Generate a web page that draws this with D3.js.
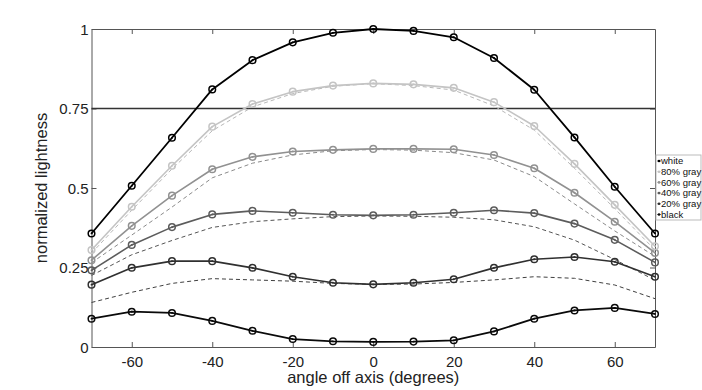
<!DOCTYPE html>
<html><head><meta charset="utf-8">
<script src="https://cdn.jsdelivr.net/npm/d3@7"></script>
<style>
html,body{margin:0;padding:0;background:#fff;}
svg{display:block;font-family:"Liberation Sans",Arial,Helvetica,sans-serif;}
</style></head>
<body><svg id="c" width="702" height="390"></svg>
<script>
const angles = [-70,-60,-50,-40,-30,-20,-10,0,10,20,30,40,50,60,70];
const seriesNames = ["white","80% gray","60% gray","40% gray","20% gray","black"];
const whiteVals  = [0.357,0.507,0.658,0.810,0.902,0.958,0.988,1.000,0.994,0.974,0.909,0.809,0.659,0.504,0.357];
const gray80Vals = [0.305,0.441,0.570,0.693,0.764,0.803,0.822,0.829,0.826,0.815,0.770,0.695,0.576,0.447,0.317];
const gray60Vals = [0.273,0.381,0.476,0.559,0.598,0.615,0.620,0.623,0.623,0.622,0.604,0.562,0.485,0.394,0.296];
const gray40Vals = [0.241,0.321,0.377,0.417,0.428,0.422,0.416,0.414,0.416,0.422,0.430,0.421,0.388,0.337,0.266];
const gray20Vals = [0.196,0.249,0.270,0.270,0.249,0.221,0.202,0.197,0.202,0.213,0.249,0.276,0.283,0.268,0.221];
const blackVals  = [0.089,0.111,0.107,0.082,0.051,0.025,0.018,0.016,0.017,0.021,0.049,0.089,0.115,0.123,0.104];
// dashed reference curves
const ref80Vals = [0.295,0.430,0.560,0.680,0.755,0.797,0.820,0.828,0.822,0.808,0.758,0.682,0.562,0.435,0.305];
const ref60Vals = [0.265,0.352,0.440,0.532,0.578,0.604,0.617,0.621,0.619,0.611,0.588,0.536,0.450,0.365,0.285];
const ref40Vals = [0.225,0.290,0.335,0.376,0.394,0.403,0.410,0.412,0.411,0.408,0.400,0.378,0.336,0.275,0.210];
const ref20Vals = [0.140,0.172,0.200,0.215,0.211,0.207,0.200,0.197,0.198,0.203,0.211,0.221,0.216,0.195,0.152];
const xTicks = [-60,-40,-20,0,20,40,60];
const xTickLabels = ["-60","-40","-20","0","20","40","60"];
const yTicks = [0,0.25,0.5,0.75,1];
const yTickLabels = ["0","0.25","0.5","0.75","1"];
const refLine = 0.75;

const solidSeries = [
  {name:seriesNames[0], vals:whiteVals,  color:"#000000", w:1.8},
  {name:seriesNames[1], vals:gray80Vals, color:"#c4c4c4", w:1.6},
  {name:seriesNames[2], vals:gray60Vals, color:"#919191", w:1.6},
  {name:seriesNames[3], vals:gray40Vals, color:"#5c5c5c", w:1.6},
  {name:seriesNames[4], vals:gray20Vals, color:"#303030", w:1.7},
  {name:seriesNames[5], vals:blackVals,  color:"#0a0a0a", w:1.8}
];
const dashedSeries = [
  {vals:ref80Vals, color:"#b8b8b8"},
  {vals:ref60Vals, color:"#8a8a8a"},
  {vals:ref40Vals, color:"#555555"},
  {vals:ref20Vals, color:"#404040"}
];

const svg = d3.select("#c");
const L=91.5, R=655, T=29, B=347;
const x = d3.scaleLinear().domain([-70,70]).range([L,R]);
const y = d3.scaleLinear().domain([0,1]).range([B,T]);
const axisColor = "#555";

// axes (inward ticks, box)
const gx = svg.append("g").attr("transform",`translate(0,${B})`)
  .call(d3.axisBottom(x).tickValues(xTicks).tickSizeInner(-5).tickSizeOuter(0).tickPadding(9)
    .tickFormat((d,i)=>xTickLabels[i]));
const gxt = svg.append("g").attr("transform",`translate(0,${T})`)
  .call(d3.axisTop(x).tickValues(xTicks).tickSizeInner(-5).tickSizeOuter(0).tickFormat(""));
const gy = svg.append("g").attr("transform",`translate(${L},0)`)
  .call(d3.axisLeft(y).tickValues(yTicks).tickSizeInner(-5).tickSizeOuter(0).tickPadding(3)
    .tickFormat((d,i)=>yTickLabels[i]));
const gyr = svg.append("g").attr("transform",`translate(${R},0)`)
  .call(d3.axisRight(y).tickValues(yTicks).tickSizeInner(-5).tickSizeOuter(0).tickFormat(""));
[gx,gxt,gy,gyr].forEach(g=>{
  g.selectAll("path").attr("stroke",axisColor).attr("stroke-width",1);
  g.selectAll("line").attr("stroke",axisColor).attr("stroke-width",1);
  g.selectAll("text").attr("fill","#222").style("font-size","15px").style("font-family","'Liberation Sans',Arial,sans-serif");
});
gy.selectAll("text").attr("dy","0.35em");

// reference line
svg.append("line").attr("x1",x(-70)).attr("x2",x(70)).attr("y1",y(refLine)).attr("y2",y(refLine))
  .attr("stroke","#333").attr("stroke-width",1.4);

const line = d3.line().x((d,i)=>x(angles[i])).y(d=>y(d));

dashedSeries.forEach(s=>{
  svg.append("path").attr("d",line(s.vals)).attr("fill","none")
    .attr("stroke",s.color).attr("stroke-width",1).attr("stroke-dasharray","4,3");
});

solidSeries.slice().reverse().forEach(s=>{
  svg.append("path").attr("d",line(s.vals)).attr("fill","none")
    .attr("stroke",s.color).attr("stroke-width",s.w).attr("stroke-linejoin","round");
  const g = svg.append("g");
  g.selectAll("circle.m").data(s.vals).join("circle").attr("class","m")
    .attr("cx",(d,i)=>x(angles[i])).attr("cy",d=>y(d)).attr("r",3.3)
    .attr("fill","none").attr("stroke",s.color).attr("stroke-width",1.5);
  g.selectAll("circle.c").data(s.vals).join("circle").attr("class","c")
    .attr("cx",(d,i)=>x(angles[i])).attr("cy",d=>y(d)).attr("r",0.9)
    .attr("fill",s.color);
});

// axis labels
svg.append("text").attr("x",(L+R)/2).attr("y",383).attr("text-anchor","middle")
  .style("font-size","16.5px").attr("fill","#222").text("angle off axis (degrees)");
svg.append("text").attr("transform",`translate(47,${(T+B)/2}) rotate(-90)`).attr("text-anchor","middle")
  .style("font-size","16.5px").attr("fill","#222").text("normalized lightness");

// legend
const lg = svg.append("g").attr("transform","translate(656,155)");
lg.append("rect").attr("x",0).attr("y",0).attr("width",45).attr("height",65)
  .attr("fill","#fff").attr("stroke","#bbb").attr("stroke-width",1);
solidSeries.forEach((s,i)=>{
  const yy = 6 + i*10.7;
  lg.append("line").attr("x1",1.5).attr("x2",4.5).attr("y1",yy).attr("y2",yy).attr("stroke",s.color).attr("stroke-width",1);
  lg.append("circle").attr("cx",3).attr("cy",yy).attr("r",1.3).attr("fill",s.color);
  lg.append("text").attr("x",5).attr("y",yy).attr("dy","0.35em")
    .style("font-size","9.5px").attr("fill","#111").text(s.name);
});
</script>
</body></html>
